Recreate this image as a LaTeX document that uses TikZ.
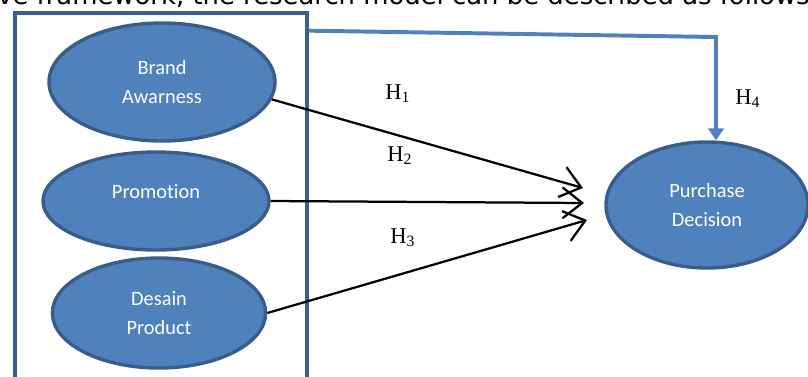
\documentclass[tikz,border=0pt]{standalone}
\usepackage{fontspec}
\setmainfont{Liberation Serif}
\newfontfamily\carlito{Carlito}[Ligatures=NoCommon]
\newfontfamily\dejavu{DejaVu Sans}
\usepackage{xcolor}
\usetikzlibrary{shapes.geometric,arrows.meta}
\definecolor{fillblue}{HTML}{4F81BD}
\definecolor{rimblue}{HTML}{385D8A}
\definecolor{frameblue}{HTML}{3C5F8E}

\begin{document}
\begin{tikzpicture}[x=0.025cm, y=-0.025cm,
		var/.style={ellipse, draw=rimblue, line width=2.4pt, fill=fillblue, text=white,
			align=center, inner sep=0pt, font=\carlito\fontsize{14.5}{21}\selectfont},
		hyp/.style={line width=1.6pt, -{Straight Barb[length=14pt, width=22pt, line width=1.6pt]}},
		hlabel/.style={anchor=base west, inner sep=0pt, font=\fontsize{16}{18}\selectfont}]
		\useasboundingbox (0, 0) rectangle (808, 376);
		\clip (0, 0) rectangle (808, 376);
		%
		\node[anchor=base west, inner sep=0pt, font=\dejavu\fontsize{18.4}{22}\selectfont] (intro) at (-3, 4) {ve framework, the research model can be described as follows}; % cut off sentence
		%
		\node[draw=frameblue, line width=2.8pt, anchor=north west, minimum width=7.3cm, minimum height=9.7cm] (frame) at (13, 11) {};
		%
		\node[var, minimum width=5.65cm, minimum height=2.95cm] (brand) at (162, 82) {Brand\\Awarness};
		\node[var, minimum width=5.65cm, minimum height=2.45cm, text depth=14pt] (promo) at (156, 201) {Promotion};
		\node[var, minimum width=5.33cm, minimum height=2.75cm] (desain) at (159, 313) {Desain\\Product};
		\node[var, minimum width=5.05cm, minimum height=3.15cm] (purchase) at (707, 205) {Purchase\\Decision};
		%
		\coordinate (t1) at (583, 188); \coordinate (t2) at (584, 203);
		\coordinate (t3) at (587, 220);
		\coordinate (h4start) at ([yshift=-14pt]frame.north east);
		\coordinate (h4corner) at (716, 37);
		% Drawing the edges
		%% H1 to H3
		\draw[hyp] (brand.-9) to (t1); \draw[hyp] (promo.east) to (t2);
		\draw[hyp] (desain.east) to (t3);
		%% H4
		\draw[fillblue, line width=2.8pt, -{Triangle[length=8.5pt, width=11pt]}] (h4start) -- (h4corner) -- (h4corner |- purchase.north);
		%
		\node[hlabel] (h1) at (385, 99) {H\textsubscript{1}};
		\node[hlabel] (h2) at (387, 161) {H\textsubscript{2}};
		\node[hlabel] (h3) at (390, 243) {H\textsubscript{3}};
		\node[hlabel] (h4) at (735, 104) {H\textsubscript{4}};
	\end{tikzpicture}
\end{document}
